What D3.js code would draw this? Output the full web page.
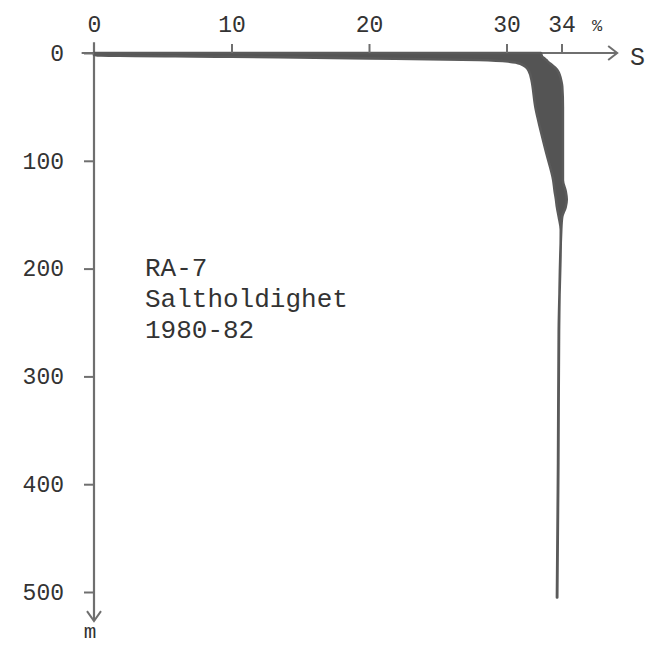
<!DOCTYPE html>
<html>
<head>
<meta charset="utf-8">
<script src="https://cdn.jsdelivr.net/npm/d3@7"></script>
<style>
  body { margin: 0; background: #fff; }
  text { font-family: "Liberation Mono", "Courier New", monospace; fill: #333; }
</style>
</head>
<body>
<svg class="chart"></svg>
<script>
/*
 * Salinity envelope (min / max) for station RA-7, 1980-82.
 */

// Depth samples, in metres.
var depths = [0, 2, 3.5, 5, 6.5, 8, 10, 16, 27, 31, 50, 62, 93, 118, 128, 136, 143, 152, 164, 257, 380, 505];

// Lowest salinity seen at each depth, in per mille.
var salinityMin = [0, 0, 10, 20, 28, 30.2, 31, 31.6, 31.85, 31.9, 32.1, 32.3, 32.9, 33.4, 33.5, 33.6, 33.67, 33.8, 33.95, 33.8, 33.75, 33.67];

// Highest salinity seen at each depth, in per mille.
var salinityMax = [32.5, 32.55, 32.6, 32.75, 32.9, 33.0, 33.2, 33.7, 34.0, 34.05, 34.1, 34.1, 34.1, 34.1, 34.3, 34.38, 34.3, 34.05, 33.98, 33.82, 33.77, 33.69];

// Tick labels.
var salinityTicks = [0, 10, 20, 30, 34];
var depthTicks = [0, 100, 200, 300, 400, 500];

var labelLines = ["RA-7", "Saltholdighet", "1980-82"];

var width = 646, height = 649;

var svg = d3.select(".chart")
    .attr("width", width)
    .attr("height", height);

var x = d3.scaleLinear().domain([0, 34]).range([94, 561.5]);
var y = d3.scaleLinear().domain([0, 500]).range([53, 592]);

var axisColor = "#6f6f6f";

// The shaded envelope between min and max salinity.
var data = depths.map(function(d, i) {
    return {depth: d, lo: salinityMin[i], hi: salinityMax[i]};
});

var area = d3.area()
    .y(function(d) { return y(d.depth); })
    .x0(function(d) { return x(d.lo); })
    .x1(function(d) { return x(d.hi); })
    .curve(d3.curveMonotoneY);

// Axis lines, drawn by hand so they can run past the domain and end in arrows.
var xEnd = x(38.05), yEnd = y(527);
svg.append("line")
    .attr("x1", x(-0.9)).attr("x2", xEnd)
    .attr("y1", y(0)).attr("y2", y(0))
    .attr("stroke", axisColor).attr("stroke-width", 2);
svg.append("line")
    .attr("x1", x(0)).attr("x2", x(0))
    .attr("y1", y(-10)).attr("y2", yEnd)
    .attr("stroke", axisColor).attr("stroke-width", 2.2);

// Arrow heads.
svg.append("path")
    .attr("d", "M" + (xEnd - 9) + "," + (y(0) - 7) + "L" + xEnd + "," + y(0) + "L" + (xEnd - 9) + "," + (y(0) + 7))
    .attr("fill", "none").attr("stroke", axisColor).attr("stroke-width", 2);
svg.append("path")
    .attr("d", "M" + (x(0) - 7) + "," + (yEnd - 10) + "L" + x(0) + "," + yEnd + "L" + (x(0) + 7) + "," + (yEnd - 10))
    .attr("fill", "none").attr("stroke", axisColor).attr("stroke-width", 2);

svg.append("path")
    .datum(data)
    .attr("d", area)
    .attr("fill", "#545454")
    .attr("stroke", "#5a5a5a")
    .attr("stroke-width", 2.6)
    .attr("stroke-linejoin", "round");

// Salinity axis along the top.
var xAxis = svg.append("g")
    .attr("transform", "translate(0," + y(0) + ")")
    .call(d3.axisTop(x).tickValues(salinityTicks).tickSize(9).tickPadding(12));

// Depth axis on the left.
var yAxis = svg.append("g")
    .attr("transform", "translate(" + x(0) + ",0)")
    .call(d3.axisLeft(y).tickValues(depthTicks).tickSize(10).tickPadding(20));

[xAxis, yAxis].forEach(function(g) {
    g.select(".domain").remove();
    g.selectAll(".tick line").attr("stroke", axisColor).attr("stroke-width", 2);
    g.selectAll(".tick text")
        .attr("fill", "#3a3a3a")
        .style("font-family", "'Liberation Mono', monospace")
        .style("font-size", "23px");
});
xAxis.selectAll(".tick")
    .filter(function(d) { return d === 0; })
    .select("line").remove();

// Units and axis names.
svg.append("text")
    .attr("x", 597).attr("y", 31)
    .attr("text-anchor", "middle")
    .style("font-size", "17px")
    .text("%");
svg.append("text")
    .attr("x", 630).attr("y", y(0) + 12)
    .style("font-size", "25px")
    .text("S");
svg.append("text")
    .attr("x", x(0) - 4).attr("y", 638)
    .attr("text-anchor", "middle")
    .style("font-size", "21px")
    .text("m");

// Station caption.
svg.append("g")
    .selectAll("text")
    .data(labelLines)
    .enter().append("text")
    .attr("x", 145)
    .attr("y", function(d, i) { return 276 + i * 31; })
    .style("font-size", "26px")
    .text(function(d) { return d; });
</script>
</body>
</html>
